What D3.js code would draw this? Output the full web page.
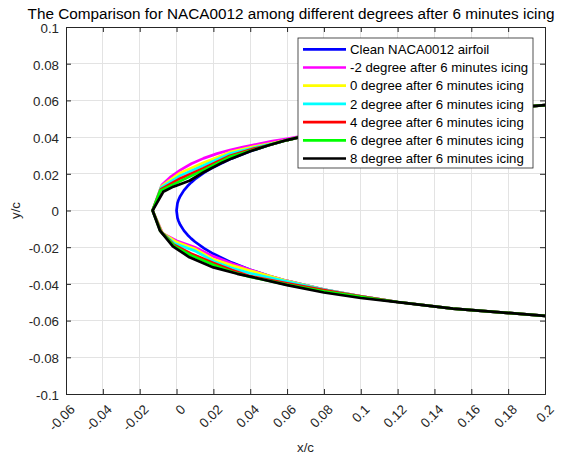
<!DOCTYPE html>
<html>
<head>
<meta charset="utf-8">
<script src="https://cdn.jsdelivr.net/npm/d3@7"></script>
<style>
  html, body { margin: 0; padding: 0; background: #fff; }
  svg { display: block; font-family: "Liberation Sans", Arial, Helvetica, sans-serif; }
</style>
</head>
<body>
<svg id="chart" width="585" height="459"></svg>
<script>
// Clean NACA0012 section, tabulated half-thickness (x/c, y/c)
const cleanX      = [0, 0.0005, 0.001, 0.002, 0.004, 0.006, 0.008, 0.01, 0.015, 0.02, 0.03, 0.04, 0.05, 0.06, 0.08, 0.1, 0.12, 0.15, 0.2, 0.25, 0.3];
const cleanUpperY = [0, 0.00395, 0.00556, 0.00782, 0.01096, 0.01334, 0.01532, 0.01704, 0.02064, 0.02360, 0.02840, 0.03228, 0.03555, 0.03838, 0.04307, 0.04683, 0.04988, 0.05345, 0.05738, 0.05941, 0.06002];
const cleanLowerY = [0, -0.00395, -0.00556, -0.00782, -0.01096, -0.01334, -0.01532, -0.01704, -0.02064, -0.02360, -0.02840, -0.03228, -0.03555, -0.03838, -0.04307, -0.04683, -0.04988, -0.05345, -0.05738, -0.05941, -0.06002];

// Iced contours after 6 minutes, from the ice tip outwards until they rejoin the clean surface
const upperM2 = [[-0.013, 0], [-0.008, 0.0139], [-0.003, 0.0185], [0.002, 0.0220], [0.008, 0.0255], [0.0146, 0.0284], [0.022, 0.0310], [0.029, 0.0330], [0.036, 0.0346], [0.042, 0.0358], [0.052, 0.0378], [0.06, 0.0391], [0.07, 0.0409]];
const lowerM2 = [[-0.013, 0], [-0.0075, -0.0125], [0.0, -0.0165], [0.01, -0.0200], [0.02, -0.0250], [0.03, -0.0289], [0.035, -0.0305], [0.04, -0.03228]];

const upperD0 = [[-0.013, 0], [-0.0082, 0.0132], [0.002, 0.0205], [0.0146, 0.0260], [0.029, 0.0318], [0.042, 0.0348], [0.05, 0.0363], [0.06, 0.03838]];
const lowerD0 = [[-0.013, 0], [-0.0078, -0.0122], [0.0, -0.0172], [0.01, -0.0210], [0.02, -0.0266], [0.03, -0.0299], [0.04, -0.0328], [0.05, -0.03555]];

const upperD2 = [[-0.013, 0], [-0.0084, 0.0125], [0.002, 0.0190], [0.0146, 0.0245], [0.029, 0.0310], [0.042, 0.0342], [0.055, 0.0370]];
const lowerD2 = [[-0.013, 0], [-0.0082, -0.0118], [-0.001, -0.0180], [0.01, -0.0220], [0.02, -0.0276], [0.03, -0.0314], [0.04, -0.0342], [0.06, -0.0387], [0.07, -0.0409]];

const upperD4 = [[-0.013, 0], [-0.0086, 0.0115], [0.002, 0.0175], [0.0146, 0.0230], [0.029, 0.0298], [0.042, 0.0337], [0.05, 0.03555]];
const lowerD4 = [[-0.013, 0], [-0.0084, -0.0116], [-0.0015, -0.0186], [0.008, -0.0235], [0.02, -0.0286], [0.03, -0.0324], [0.04, -0.0358], [0.06, -0.0397], [0.08, -0.0433], [0.09, -0.0451]];

const upperD6 = [[-0.013, 0], [-0.0088, 0.0108], [0.002, 0.0160], [0.0146, 0.0220], [0.029, 0.0292], [0.045, 0.0340]];
const lowerD6 = [[-0.013, 0], [-0.0088, -0.0112], [-0.0010, -0.0196], [0.008, -0.0245], [0.02, -0.0296], [0.03, -0.0334], [0.04, -0.0362], [0.06, -0.0404], [0.08, -0.0440], [0.1, -0.0470], [0.11, -0.0485]];

const upperD8 = [[-0.013, 0], [-0.0072, 0.0102], [-0.0017, 0.0130], [0.007, 0.0162], [0.015, 0.0210], [0.025, 0.0262]];
const lowerD8 = [[-0.013, 0], [-0.0090, -0.0110], [-0.0020, -0.0195], [0.007, -0.0255], [0.02, -0.0310], [0.033, -0.0345], [0.045, -0.0372], [0.06, -0.0407], [0.08, -0.0447], [0.1, -0.0477], [0.12, -0.0499]];

const seriesNames = [
  "Clean NACA0012 airfoil",
  "-2 degree after 6 minutes icing",
  "0 degree after 6 minutes icing",
  "2 degree after 6 minutes icing",
  "4 degree after 6 minutes icing",
  "6 degree after 6 minutes icing",
  "8 degree after 6 minutes icing"
];
const seriesColors = ["#0000ff", "#ff00ff", "#ffff00", "#00ffff", "#ff0000", "#00ff00", "#000000"];

const xTicks = [-0.06, -0.04, -0.02, 0, 0.02, 0.04, 0.06, 0.08, 0.1, 0.12, 0.14, 0.16, 0.18, 0.2];
const xTickLabels = ["-0.06", "-0.04", "-0.02", "0", "0.02", "0.04", "0.06", "0.08", "0.1", "0.12", "0.14", "0.16", "0.18", "0.2"];
const yTicks = [-0.1, -0.08, -0.06, -0.04, -0.02, 0, 0.02, 0.04, 0.06, 0.08, 0.1];
const yTickLabels = ["-0.1", "-0.08", "-0.06", "-0.04", "-0.02", "0", "0.02", "0.04", "0.06", "0.08", "0.1"];

const titleText = "The Comparison for NACA0012 among different degrees after 6 minutes icing";

// ---- layout ----
const plot = { left: 66, right: 545, top: 27, bottom: 394 };
const axisColor = "#262626";
const gridColor = "#e3e3e3";
const lineWidth = 2.7;

const svg = d3.select("#chart");
const x = d3.scaleLinear().domain([-0.06, 0.2]).range([plot.left, plot.right]);
const y = d3.scaleLinear().domain([-0.1, 0.1]).range([plot.bottom, plot.top]);

// grid
const grid = svg.append("g").attr("stroke", gridColor).attr("stroke-width", 1).attr("shape-rendering", "crispEdges");
grid.selectAll("line.gx").data(xTicks).join("line")
  .attr("x1", d => x(d)).attr("x2", d => x(d)).attr("y1", plot.top).attr("y2", plot.bottom);
grid.selectAll("line.gy").data(yTicks).join("line")
  .attr("y1", d => y(d)).attr("y2", d => y(d)).attr("x1", plot.left).attr("x2", plot.right);

// curves
svg.append("defs").append("clipPath").attr("id", "plotClip")
  .append("rect").attr("x", plot.left).attr("y", plot.top)
  .attr("width", plot.right - plot.left).attr("height", plot.bottom - plot.top);

const cleanUpper = cleanX.map((v, i) => [v, cleanUpperY[i]]);
const cleanLower = cleanX.map((v, i) => [v, cleanLowerY[i]]);

// full contour: clean upper surface -> ice shape -> clean lower surface
function contour(upper, lower) {
  const xu = upper[upper.length - 1][0];
  const xl = lower[lower.length - 1][0];
  const head = cleanUpper.filter(p => p[0] > xu).reverse();
  const tail = cleanLower.filter(p => p[0] > xl);
  return head.concat(upper.slice().reverse(), lower.slice(1), tail);
}

const cleanContour = cleanUpper.slice().reverse().concat(cleanLower.slice(1));
const contours = [
  cleanContour,
  contour(upperM2, lowerM2),
  contour(upperD0, lowerD0),
  contour(upperD2, lowerD2),
  contour(upperD4, lowerD4),
  contour(upperD6, lowerD6),
  contour(upperD8, lowerD8)
];

const line = d3.line().x(d => x(d[0])).y(d => y(d[1]));
svg.append("g").attr("clip-path", "url(#plotClip)")
  .selectAll("path").data(contours).join("path")
  .attr("d", line)
  .attr("fill", "none")
  .attr("stroke", (d, i) => seriesColors[i])
  .attr("stroke-width", lineWidth)
  .attr("stroke-linejoin", "round")
  .attr("stroke-linecap", "round");

// axes (ticks point inwards on all four sides)
const tickLen = 5;
const xAxis = svg.append("g").attr("transform", `translate(0,${plot.bottom})`)
  .call(d3.axisBottom(x).tickValues(xTicks).tickSize(-tickLen).tickFormat((d, i) => xTickLabels[i]));
const yAxis = svg.append("g").attr("transform", `translate(${plot.left},0)`)
  .call(d3.axisLeft(y).tickValues(yTicks).tickSize(-tickLen).tickPadding(7).tickFormat((d, i) => yTickLabels[i]));
svg.append("g").attr("transform", `translate(0,${plot.top})`)
  .call(d3.axisTop(x).tickValues(xTicks).tickSize(-tickLen).tickFormat(""));
svg.append("g").attr("transform", `translate(${plot.right},0)`)
  .call(d3.axisRight(y).tickValues(yTicks).tickSize(-tickLen).tickFormat(""));

svg.selectAll(".domain, .tick line").attr("stroke", axisColor);
svg.selectAll(".tick text").attr("fill", axisColor).attr("font-size", 13.3)
  .attr("font-family", "'Liberation Sans', Arial, sans-serif");

xAxis.selectAll(".tick text")
  .attr("text-anchor", "end")
  .attr("x", 0).attr("y", 0).attr("dy", "0.35em")
  .attr("transform", "translate(6,13) rotate(-45)");
yAxis.selectAll(".tick text").attr("dy", "0.4em");

// axis labels and title
svg.append("text").attr("x", (plot.left + plot.right) / 2).attr("y", 452)
  .attr("text-anchor", "middle").attr("font-size", 13.3).attr("fill", axisColor).text("x/c");
svg.append("text").attr("transform", `translate(20,${(plot.top + plot.bottom) / 2}) rotate(-90)`)
  .attr("text-anchor", "middle").attr("font-size", 13.3).attr("fill", axisColor).text("y/c");
svg.append("text").attr("x", 291).attr("y", 19)
  .attr("text-anchor", "middle").attr("font-size", 15.3).attr("fill", "#000").text(titleText);

// legend
const legend = { x: 298, y: 38, w: 235, h: 130, row: 18.2, first: 11.3 };
const lg = svg.append("g");
lg.append("rect").attr("x", legend.x).attr("y", legend.y).attr("width", legend.w).attr("height", legend.h)
  .attr("fill", "#fff").attr("stroke", axisColor).attr("stroke-width", 0.8);
const rows = lg.selectAll("g.row").data(seriesNames).join("g")
  .attr("transform", (d, i) => `translate(0,${legend.y + legend.first + i * legend.row})`);
rows.append("line").attr("x1", legend.x + 5).attr("x2", legend.x + 48).attr("y1", 0).attr("y2", 0)
  .attr("stroke", (d, i) => seriesColors[i]).attr("stroke-width", lineWidth);
rows.append("text").attr("x", legend.x + 52).attr("y", 0).attr("dy", "0.36em")
  .attr("font-size", 13.2).attr("fill", "#000").text(d => d);
</script>
</body>
</html>
